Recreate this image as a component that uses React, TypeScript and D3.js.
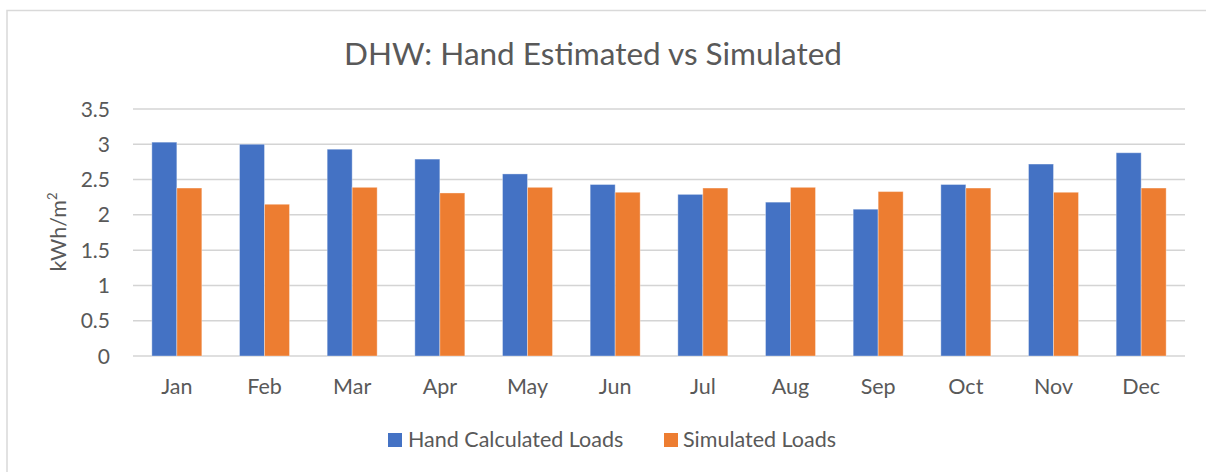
import React from 'react';
import * as d3 from 'd3';

const months = ['Jan', 'Feb', 'Mar', 'Apr', 'May', 'Jun', 'Jul', 'Aug', 'Sep', 'Oct', 'Nov', 'Dec'];
const handCalculated = [3.03, 3.0, 2.93, 2.79, 2.58, 2.43, 2.29, 2.18, 2.08, 2.43, 2.72, 2.88];
const simulated = [2.38, 2.15, 2.39, 2.31, 2.39, 2.32, 2.38, 2.39, 2.33, 2.38, 2.32, 2.38];
const seriesNames = ['Hand Calculated Loads', 'Simulated Loads'];
const yTicks = [0, 0.5, 1, 1.5, 2, 2.5, 3, 3.5];

const W = 1206;
const H = 472;
const colors = ['#4472C4', '#ED7D31'];
const textColor = '#595959';
const font = 'Lato, "Noto Sans", sans-serif';

export default function App() {
  const x = d3.scaleBand<string>().domain(months).range([133, 1185]).paddingInner(0.43).paddingOuter(0.215);
  const xSub = d3.scaleBand<number>().domain([0, 1]).range([0, x.bandwidth()]);
  const y = d3.scaleLinear().domain([0, 3.5]).range([356, 109]);

  const series = [handCalculated, simulated];

  return (
    <svg width={W} height={H} style={{ position: 'absolute', left: 0, top: 0, background: '#fff' }} fontFamily={font}>
      <rect x={0} y={0} width={W} height={H} fill="#fff" />
      {/* chart border (only top and left visible) */}
      <path d={`M7,${H} V10.5 H${W}`} fill="none" stroke="#d9d9d9" strokeWidth={1.5} />

      <text x={593} y={65} textAnchor="middle" fontSize={31.5} fill={textColor}>
        DHW: Hand Estimated vs Simulated
      </text>

      {yTicks.map((t) => (
        <g key={t}>
          <line x1={133} x2={1185} y1={y(t)} y2={y(t)} stroke="#d4d4d4" strokeWidth={1.5} />
          <text x={110} y={y(t)} dy="0.36em" textAnchor="end" fontSize={21} fill={textColor}>
            {t}
          </text>
        </g>
      ))}

      {series.map((vals, si) =>
        vals.map((v, i) => (
          <rect
            key={`${si}-${i}`}
            x={(x(months[i]) ?? 0) + (xSub(si) ?? 0)}
            y={y(v)}
            width={xSub.bandwidth()}
            height={y(0) - y(v)}
            fill={colors[si]}
            stroke="#fff"
            strokeOpacity={0.35}
            strokeWidth={1}
          />
        )),
      )}

      {months.map((m) => (
        <text key={m} x={(x(m) ?? 0) + x.bandwidth() / 2} y={394} textAnchor="middle" fontSize={21.5} fill={textColor}>
          {m}
        </text>
      ))}

      <text transform="translate(66,232) rotate(-90)" textAnchor="middle" fontSize={21.5} fill={textColor}>
        kWh/m
        <tspan fontSize={13} dy={-9}>
          2
        </tspan>
      </text>

      <g>
        <rect x={388} y={433} width={14} height={14} fill={colors[0]} />
        <text x={408} y={447} fontSize={21.5} fill={textColor}>
          {seriesNames[0]}
        </text>
        <rect x={664} y={433} width={14} height={14} fill={colors[1]} />
        <text x={683} y={447} fontSize={21.5} fill={textColor}>
          {seriesNames[1]}
        </text>
      </g>
    </svg>
  );
}
